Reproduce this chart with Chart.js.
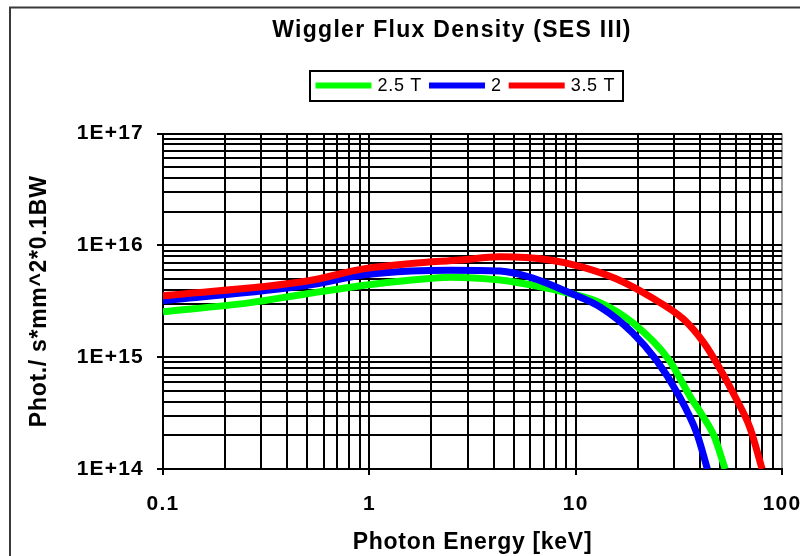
<!DOCTYPE html>
<html>
<head>
<meta charset="utf-8">
<title>Wiggler Flux Density (SES III)</title>
<script src="https://cdn.jsdelivr.net/npm/chart.js@4.4.1/dist/chart.umd.min.js"></script>
<style>
  html, body { margin: 0; padding: 0; background: #ffffff; }
  canvas { display: block; }
</style>
</head>
<body>
<canvas id="chart" width="800" height="556"></canvas>
<script>
// Photon energy (keV) and flux density (phot./s*mm^2*0.1BW) for each wiggler field
const energy25 = [0.1, 0.26, 0.5, 0.95, 1.6, 2.46, 4.3, 6.2, 9.1, 13.2, 18.9, 28.3, 36, 41, 47, 53];
const flux25   = [2.55e15, 3.06e15, 3.7e15, 4.4e15, 4.9e15, 5.2e15, 4.9e15, 4.4e15, 3.77e15, 3.06e15, 2.03e15, 9.5e14, 4.4e14, 3.04e14, 1.95e14, 1.0e14];

const energy20 = [0.1, 0.5, 0.95, 1.6, 2.46, 4.3, 6.2, 9.1, 13.2, 18.9, 24.5, 31.1, 38.6, 43.5];
const flux20   = [3.19e15, 4.4e15, 5.46e15, 5.9e15, 6.0e15, 5.9e15, 5.1e15, 3.85e15, 2.8e15, 1.65e15, 9.5e14, 4.8e14, 2.1e14, 1.0e14];

const energy35 = [0.1, 0.5, 0.95, 1.6, 2.75, 4.3, 7.5, 10.8, 15.8, 23.0, 33.2, 41.5, 50.1, 59.3, 70.0, 80.1];
const flux35   = [3.54e15, 4.8e15, 6.2e15, 6.9e15, 7.4e15, 7.9e15, 7.4e15, 6.4e15, 5.0e15, 3.47e15, 2.2e15, 1.37e15, 7.86e14, 4.41e14, 2.33e14, 1.0e14];

const seriesNames  = ['2.5 T', '2', '3.5 T'];
const seriesColors = ['#00ff00', '#0000ff', '#ff0000'];
const xTickLabels  = ['0.1', '1', '10', '100'];   // decades 10^-1 .. 10^2
const yTickLabels  = ['1E+14', '1E+15', '1E+16', '1E+17'];

const FONT = "'Liberation Sans', Arial, sans-serif";

// 1..9 per decade, as on a log-paper grid
function decadeTicks(fromExp, toExp) {
  const out = [];
  for (let e = fromExp; e < toExp; e++) {
    for (let m = 1; m < 10; m++) out.push(Number((m * Math.pow(10, e)).toPrecision(6)));
  }
  out.push(Number(Math.pow(10, toExp).toPrecision(6)));
  return out;
}
const xGrid = decadeTicks(-1, 2);
const yGrid = decadeTicks(14, 17);

function isDecade(v) {
  const l = Math.log10(v);
  return Math.abs(l - Math.round(l)) < 1e-9;
}

function points(xs, ys) {
  return xs.map((x, i) => ({ x: x, y: ys[i] }));
}

const series = [
  points(energy25, flux25),
  points(energy20, flux20),
  points(energy35, flux35)
];

// run one drawing method of a chart element with a given letter spacing
function withSpacing(obj, method, spacing) {
  if (!obj || obj['_spaced_' + method]) return;
  const orig = obj[method];
  obj[method] = function () {
    const c = this.ctx;
    const prev = c.letterSpacing;
    c.letterSpacing = spacing;
    try { return orig.apply(this, arguments); }
    finally { c.letterSpacing = prev; }
  };
  obj['_spaced_' + method] = true;
}

// frame around the whole chart
const outerFrame = {
  id: 'outerFrame',
  beforeDraw(chart) {
    const ctx = chart.ctx;
    ctx.save();
    ctx.fillStyle = '#ffffff';
    ctx.fillRect(0, 0, chart.width, chart.height);
    ctx.strokeStyle = '#3a3a3a';
    ctx.lineWidth = 2;
    ctx.strokeRect(10, 7.5, chart.width + 20, chart.height + 20);
    ctx.restore();
  }
};

// horizontal placement of the title and legend row, and text spacing
const blockStyle = {
  id: 'blockStyle',
  afterLayout(chart, args, opts) {
    const t = chart.titleBlock;
    if (t) {
      const dx = opts.title - (t.left + t.right) / 2;
      t.left += dx; t.right += dx;
      withSpacing(t, 'draw', '1.3px');
    }
    const l = chart.legend;
    if (l) {
      const dx = opts.legend - (l.left + l.right) / 2;
      l.left += dx; l.right += dx;
      withSpacing(l, 'draw', '0.7px');
    }
    ['x', 'y'].forEach(id => {
      const s = chart.scales[id];
      withSpacing(s, 'drawLabels', '1.2px');
      withSpacing(s, 'drawTitle', '0.7px');
    });
  }
};

// box drawn round the legend entries
const legendFrame = {
  id: 'legendFrame',
  afterDraw(chart) {
    const boxes = chart.legend && chart.legend.legendHitBoxes;
    if (!boxes || !boxes.length) return;
    let left = Infinity, right = -Infinity, top = Infinity;
    boxes.forEach(b => {
      left = Math.min(left, b.left);
      right = Math.max(right, b.left + b.width);
      top = Math.min(top, b.top);
    });
    const ctx = chart.ctx;
    ctx.save();
    ctx.strokeStyle = '#000000';
    ctx.lineWidth = 2;
    ctx.strokeRect(Math.round(left) - 8, Math.round(top) - 6, Math.round(right - left) + 24, 30);
    ctx.restore();
  }
};

const ctx = document.getElementById('chart').getContext('2d');

new Chart(ctx, {
  type: 'line',
  data: {
    datasets: series.map((pts, i) => ({
      label: seriesNames[i],
      data: pts,
      borderColor: seriesColors[i],
      backgroundColor: seriesColors[i],
      borderWidth: 7,
      pointRadius: 0,
      pointHoverRadius: 0,
      fill: false,
      cubicInterpolationMode: 'monotone',
      clip: 0,
      order: 3 - i
    }))
  },
  options: {
    responsive: false,
    animation: false,
    events: [],
    layout: { padding: { top: 0, left: 0, right: 18, bottom: 0 } },
    plugins: {
      title: {
        display: true,
        text: 'Wiggler Flux Density (SES III)',
        color: '#000000',
        font: { family: FONT, size: 23, weight: 'bold', lineHeight: 1.2 },
        padding: { top: 17, bottom: 22 }
      },
      subtitle: {
        display: true,
        text: '',
        weight: 500,
        font: { family: FONT, size: 10, lineHeight: 1 },
        padding: { top: 19, bottom: 0 }
      },
      legend: {
        display: true,
        position: 'top',
        labels: {
          color: '#000000',
          font: { family: FONT, size: 18 },
          usePointStyle: true,
          pointStyle: 'line',
          pointStyleWidth: 50,
          padding: 10,
          sort: (a, b) => a.datasetIndex - b.datasetIndex,
          generateLabels: chart =>
            Chart.defaults.plugins.legend.labels.generateLabels(chart).map(item =>
              Object.assign(item, { lineWidth: 6, lineCap: 'square', pointStyle: 'line' }))
        }
      },
      tooltip: { enabled: false },
      blockStyle: { title: 452, legend: 463 }
    },
    scales: {
      x: {
        type: 'logarithmic',
        position: 'bottom',
        min: 0.1,
        max: 100,
        afterBuildTicks: s => { s.ticks = xGrid.map(v => ({ value: v })); },
        afterFit: s => { s.height = 87; s.paddingLeft = 0; s.paddingRight = 0; },
        ticks: {
          autoSkip: false,
          maxRotation: 0,
          minRotation: 0,
          padding: 17,
          color: '#000000',
          font: { family: FONT, size: 21, weight: 'bold' },
          callback: v => isDecade(v) ? xTickLabels[Math.round(Math.log10(v)) + 1] : ''
        },
        grid: {
          color: c => (c.tick && c.tick.value >= 100) ? '#9a9a9a' : '#000000',
          lineWidth: 2,
          tickLength: 6,
          tickColor: c => (c.tick && isDecade(c.tick.value)) ? '#000000' : 'rgba(0,0,0,0)'
        },
        border: { display: true, color: '#000000', width: 2 },
        title: {
          display: true,
          text: 'Photon Energy [keV]',
          color: '#000000',
          font: { family: FONT, size: 23, weight: 'bold', lineHeight: 1.2 },
          padding: { top: 0, bottom: 0 }
        }
      },
      y: {
        type: 'logarithmic',
        position: 'left',
        min: 1e14,
        max: 1e17,
        afterBuildTicks: s => { s.ticks = yGrid.map(v => ({ value: v })); },
        afterFit: s => { s.width = 163; s.paddingTop = 0; s.paddingBottom = 0; },
        ticks: {
          autoSkip: false,
          padding: 13,
          color: '#000000',
          font: { family: FONT, size: 21, weight: 'bold' },
          callback: v => isDecade(v) ? yTickLabels[Math.round(Math.log10(v)) - 14] : ''
        },
        grid: {
          color: '#000000',
          lineWidth: 2,
          tickLength: 6,
          tickColor: c => (c.tick && isDecade(c.tick.value)) ? '#000000' : 'rgba(0,0,0,0)'
        },
        border: { display: true, color: '#000000', width: 2 },
        title: {
          display: true,
          text: 'Phot./ s*mm^2*0.1BW',
          color: '#000000',
          font: { family: FONT, size: 23, weight: 'bold', lineHeight: 1.2 },
          padding: { top: 26, bottom: 0 }
        }
      }
    }
  },
  plugins: [outerFrame, blockStyle, legendFrame]
});
</script>
</body>
</html>
